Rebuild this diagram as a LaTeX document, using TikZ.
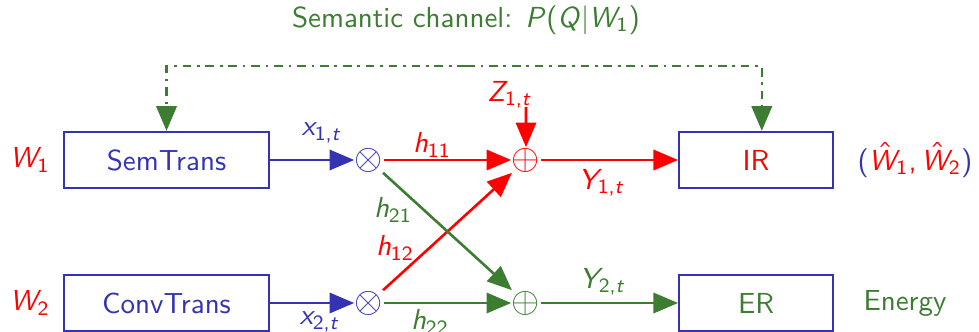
\documentclass[tikz,border=0pt]{standalone}
\usetikzlibrary{arrows.meta}
% sans serif math, as on slides
\SetSymbolFont{letters}{normal}{OT1}{cmss}{m}{sl}
\SetSymbolFont{operators}{normal}{OT1}{cmss}{m}{n}
\DeclareMathSymbol{,}{\mathpunct}{operators}{"2C}
\definecolor{azulB}{HTML}{3333B3}
\definecolor{verde}{HTML}{3C7D32}
\definecolor{rojo}{HTML}{FF0000}

\begin{document}
\begin{tikzpicture}[x=0.345pt, y=-0.345pt, >={Triangle[length=8.5pt,width=7pt]},
  font=\sffamily,
  blk/.style={draw=azulB, line width=0.8pt, minimum height=19.3pt, inner sep=0pt},
  sym/.style={inner sep=0pt, scale=1.25},
  flow/.style={->, line width=0.9pt}]
  \useasboundingbox (0,0) rectangle (979,332);
  % transmitters and receivers
  \node[blk, minimum width=70.5pt, text=azulB] (sem) at (166.5,160) {SemTrans};
  \node[blk, minimum width=70.5pt, text=azulB] (conv) at (166.5,303) {ConvTrans};
  \node[blk, minimum width=53pt, text=rojo] (ir) at (756,160) {IR};
  \node[blk, minimum width=53pt, text=verde] (er) at (756,303) {ER};
  % multipliers and adders
  \node[sym, text=azulB] (mul1) at (369,160) {$\otimes$};
  \node[sym, text=azulB] (mul2) at (369,303) {$\otimes$};
  \node[sym, text=rojo] (add1) at (526,160) {$\oplus$};
  \node[sym, text=verde] (add2) at (526,303) {$\oplus$};
  \coordinate (zin) at (526,107);
  % links
  \draw[flow, azulB] (sem) -- (mul1);
  \draw[flow, azulB] (conv) -- (mul2);
  \draw[flow, rojo] (mul1) -- (add1);
  \draw[flow, rojo] (mul2) -- (add1);
  \draw[flow, verde] (mul1) -- (add2);
  \draw[flow, verde] (mul2) -- (add2);
  \draw[flow, rojo] (zin) -- (add1);
  \draw[flow, rojo] (add1) -- (ir);
  \draw[flow, verde] (add2) -- (er);
  % semantic channel
  \coordinate (sc) at (466,66);
  \draw[flow, verde, dash dot] (sc) -| (sem.north);
  \draw[flow, verde, dash dot] (sc) -| ([xshift=2pt]ir.north);
  \node[verde] (title) at (466,20) {Semantic channel: $P(Q|W_1)$};
  % labels
  \node[rojo] (w1) at (30,160) {$W_1$};
  \node[rojo] (w2) at (30,303) {$W_2$};
  \node[azulB] (x1) at (322,133) {$x_{1,t}$};
  \node[azulB] (x2) at (320,322) {$x_{2,t}$};
  \node[rojo] (h11) at (432,145) {$h_{11}$};
  \node[verde] (h21) at (393,210) {$h_{21}$};
  \node[rojo] (h12) at (395,248) {$h_{12}$};
  \node[verde] (h22) at (430,322) {$h_{22}$};
  \node[rojo] (z1) at (510,95) {$Z_{1,t}$};
  \node[rojo] (y1) at (602,183) {$Y_{1,t}$};
  \node[verde] (y2) at (603,282) {$Y_{2,t}$};
  \node (what) at (915,160) {$\textcolor{azulB}{(}\textcolor{rojo}{\hat{W}_1, \hat{W}_2}\textcolor{azulB}{)}$};
  \node[verde] (energy) at (905,303) {Energy};
\end{tikzpicture}
\end{document}
